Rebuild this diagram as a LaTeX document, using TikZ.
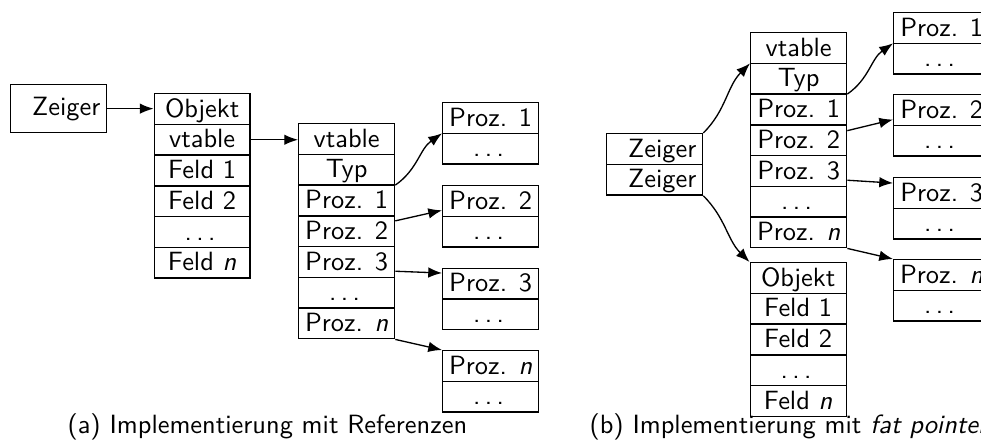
\documentclass[tikz,border=0pt]{standalone}
\usetikzlibrary{shapes.multipart,arrows.meta,calc}
% one table row: fixed height and fixed width, text centred or set right
\newcommand\rw[1]{\rule[-2.5pt]{0pt}{11.14pt}\makebox[31.56pt]{#1}}
\newcommand\rr[1]{\rule[-2.5pt]{0pt}{11.14pt}\makebox[31.56pt][r]{#1}}
% three spaced dots
\newcommand\dd{.\kern1.67pt.\kern1.67pt.\kern1.67pt}
\tikzset{
  every node/.style={font=\sffamily},
  cell/.style={draw, line width=0.5pt, rectangle split, rectangle split parts=#1,
    inner xsep=2.4pt, inner ysep=0pt, anchor=north west},
  single/.style={draw, line width=0.5pt, inner xsep=2.4pt, inner ysep=0pt,
    minimum height=18.18pt, anchor=north west},
  arr/.style={-{Latex[length=5.2pt,width=4pt]}, line width=0.5pt},
  captext/.style={anchor=base west, inner sep=0pt},
}
\begin{document}
\begin{tikzpicture}[x=0.3788pt, y=-0.3788pt]
\useasboundingbox (0,0) rectangle (981,439);

% ---------- (a) references ----------
\node[single] (Za) at (10,84) {\makebox[31.56pt][r]{Zeiger}};
\node[cell=6] (Oa) at (153.5,93) {\rw{Objekt}
  \nodepart{two}\rw{vtable}
  \nodepart{three}\rw{Feld 1}
  \nodepart{four}\rw{Feld 2}
  \nodepart{five}\rw{\dd}
  \nodepart{six}\rw{Feld \textit{n}}};
\node[cell=7] (Va) at (298,123) {\rw{vtable}
  \nodepart{two}\rw{Typ}
  \nodepart{three}\rw{Proz. 1}
  \nodepart{four}\rw{Proz. 2}
  \nodepart{five}\rw{Proz. 3}
  \nodepart{six}\rw{\dd}
  \nodepart{seven}\rw{Proz. \textit{n}}};
\node[cell=2] (Pa1) at (442,102)   {\rw{Proz. 1}\nodepart{two}\rw{\dd}};
\node[cell=2] (Pa2) at (442,185)   {\rw{Proz. 2}\nodepart{two}\rw{\dd}};
\node[cell=2] (Pa3) at (442,267.5) {\rw{Proz. 3}\nodepart{two}\rw{\dd}};
\node[cell=2] (Pan) at (442,350)   {\rw{Proz. \textit{n}}\nodepart{two}\rw{\dd}};

\coordinate (oav) at ($(Oa.text split east)!.5!(Oa.two split east)$);
\draw[arr] (Za.east) -- (Za.east -| Oa.west);
\draw[arr] (oav) -- (oav -| Va.west);
\draw[arr] (Va.two split east) to[out=35,in=215] (Pa1.text split west);
\draw[arr] ([yshift=-1.9pt]Va.three split east) -- ([yshift=2.3pt]Pa2.text split west);
\draw[arr] ([yshift=2.3pt]Va.five split east) -- ([yshift=-2.1pt]Pa3.north west);
\draw[arr] (Va.south east) -- (Pan.north west);

\node[captext] (capa) at (67,433) {(a) Implementierung mit Referenzen};

% ---------- (b) fat pointers ----------
\node[cell=2] (Zb) at (606,133) {\rr{Zeiger}\nodepart{two}\rr{Zeiger}};
\node[cell=7] (Vb) at (750,32) {\rw{vtable}
  \nodepart{two}\rw{Typ}
  \nodepart{three}\rw{Proz. 1}
  \nodepart{four}\rw{Proz. 2}
  \nodepart{five}\rw{Proz. 3}
  \nodepart{six}\rw{\dd}
  \nodepart{seven}\rw{Proz. \textit{n}}};
\node[cell=5] (Ob) at (749.5,262) {\rw{Objekt}
  \nodepart{two}\rw{Feld 1}
  \nodepart{three}\rw{Feld 2}
  \nodepart{four}\rw{\dd}
  \nodepart{five}\rw{Feld \textit{n}}};
\node[cell=2] (Pb1) at (893,12)  {\rw{Proz. 1}\nodepart{two}\rw{\dd}};
\node[cell=2] (Pb2) at (893,94)  {\rw{Proz. 2}\nodepart{two}\rw{\dd}};
\node[cell=2] (Pb3) at (893,177) {\rw{Proz. 3}\nodepart{two}\rw{\dd}};
\node[cell=2] (Pbn) at (893,259) {\rw{Proz. \textit{n}}\nodepart{two}\rw{\dd}};

\draw[arr] (Zb.north east) to[out=45,in=225] (Vb.text split west);
\draw[arr] (Zb.south east) to[out=-45,in=135] (Ob.north west);
\draw[arr] (Vb.two split east) to[out=35,in=215] (Pb1.text split west);
\draw[arr] ([yshift=-2.2pt]Vb.three split east) -- ([yshift=2.2pt]Pb2.text split west);
\draw[arr] ([yshift=2.3pt]Vb.five split east) -- ([yshift=-2.3pt]Pb3.north west);
\draw[arr] (Vb.south east) -- (Pbn.north west);

\node[captext] (capb) at (589,433) {(b) Implementierung mit \textit{fat pointers}};
\end{tikzpicture}
\end{document}
